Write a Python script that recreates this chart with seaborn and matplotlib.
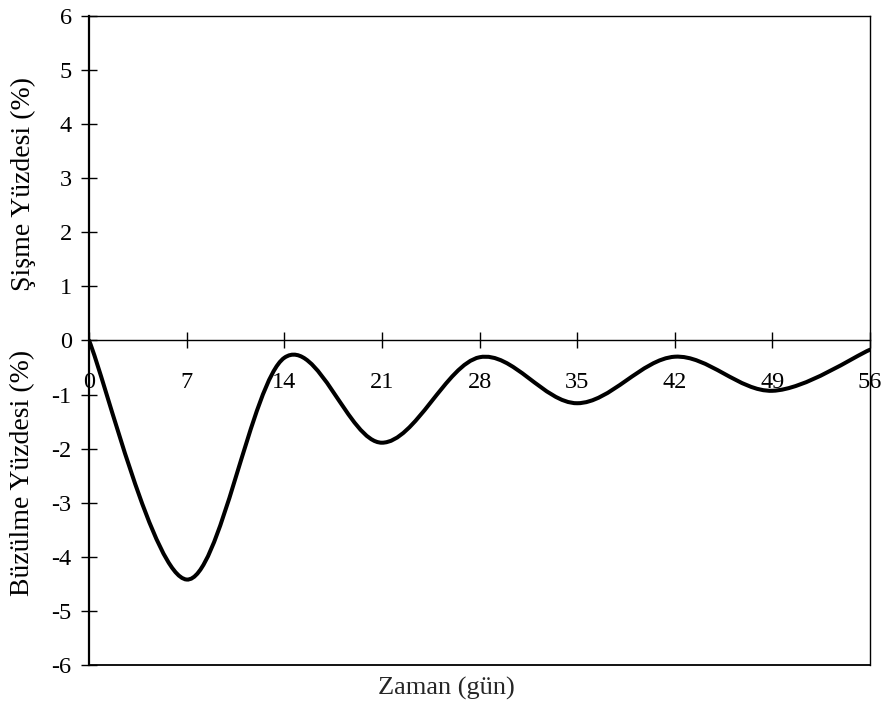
import numpy as np
import matplotlib
matplotlib.use('Agg')
import matplotlib.pyplot as plt
import matplotlib.transforms as mtransforms
from matplotlib.path import Path
from matplotlib.patches import PathPatch
import seaborn as sns

sns.set_theme(style='white')
plt.rcParams['font.family'] = ['Liberation Serif', 'DejaVu Serif']
plt.rcParams['axes.unicode_minus'] = False
plt.rcParams['text.color'] = 'black'
plt.rcParams['axes.edgecolor'] = 'black'
plt.rcParams['xtick.color'] = 'black'
plt.rcParams['ytick.color'] = 'black'

# measured values, every 7 days
days = [0, 7, 14, 21, 28, 35, 42, 49, 56]
change = [0.0, -4.42, -0.32, -1.89, -0.31, -1.16, -0.30, -0.93, -0.17]
y_ticks = list(range(-6, 7))
upper_label = 'Şişme Yüzdesi (%)'
lower_label = 'Büzülme Yüzdesi (%)'
x_label = 'Zaman (gün)'


def smooth_path(x, y):
    # excel style smoothed line (catmull-rom bezier through the points)
    pts = np.column_stack([x, y]).astype(float)
    ext = np.vstack([pts[0], pts, pts[-1]])
    verts = [pts[0]]
    codes = [Path.MOVETO]
    for i in range(len(pts) - 1):
        p0, p1, p2, p3 = ext[i], ext[i + 1], ext[i + 2], ext[i + 3]
        verts += [p1 + (p2 - p0) / 6, p2 - (p3 - p1) / 6, p2]
        codes += [Path.CURVE4] * 3
    return Path(verts, codes)


fig = plt.figure(figsize=(8.86, 7.2), dpi=100)
ax = fig.add_axes([0.1005, 0.0764, 0.8815, 0.9014])

ax.add_patch(PathPatch(smooth_path(days, change), facecolor='none',
                       edgecolor='black', lw=2.9, capstyle='round'))
ax.set_xlim(days[0], days[-1])
ax.set_ylim(y_ticks[0], y_ticks[-1])

ax.set_yticks(y_ticks)
ax.tick_params(axis='y', left=True, direction='inout', length=11, width=1,
               pad=7, labelsize=17.5)
ax.tick_params(axis='x', bottom=False, labelbottom=False)

for side in ['top', 'right']:
    ax.spines[side].set_linewidth(1.0)
ax.spines['left'].set_linewidth(1.6)
ax.spines['bottom'].set_linewidth(1.3)

# x axis drawn along the zero line
sec = ax.secondary_xaxis(0.5)
sec.set_alignment('bottom')
sec.set_xticks(days)
sec.tick_params(axis='x', bottom=True, direction='inout', length=11, width=1,
                pad=17, labelsize=17.5)
sec.spines['bottom'].set_linewidth(1.0)

trans = mtransforms.blended_transform_factory(fig.transFigure, ax.transData)
ax.text(23 / 886, 2.9, upper_label, rotation=90, ha='center', va='center',
        fontsize=20, transform=trans)
ax.text(23 / 886, -2.45, lower_label, rotation=90, ha='center', va='center',
        fontsize=20, transform=trans)

ax.set_xlabel(x_label, fontsize=19, va='top')
ax.xaxis.set_label_coords(0.457, -0.018)

fig.savefig('out.png', dpi=100)
